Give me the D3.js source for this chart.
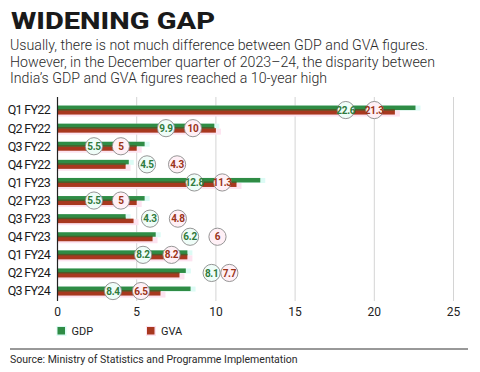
<!DOCTYPE html>
<html>
<head>
<meta charset="utf-8">
<script src="https://cdn.jsdelivr.net/npm/d3@7"></script>
<style>
  body { margin: 0; background: #fff; }
  svg { display: block; font-family: Roboto, "Noto Sans", sans-serif; }
</style>
</head>
<body>
<svg id="chart" width="480" height="372"></svg>
<script>
const quarters = ['Q1 FY22', 'Q2 FY22', 'Q3 FY22', 'Q4 FY22', 'Q1 FY23', 'Q2 FY23',
  'Q3 FY23', 'Q4 FY23', 'Q1 FY24', 'Q2 FY24', 'Q3 FY24'];
const gdp = [22.6, 9.9, 5.5, 4.5, 12.8, 5.5, 4.3, 6.2, 8.2, 8.1, 8.4];
const gva = [21.3, 10, 5, 4.3, 11.3, 5, 4.8, 6, 8.2, 7.7, 6.5];
const xTicks = [0, 5, 10, 15, 20, 25];
// where the value bubbles sit in the original (axis units)
const gdpBubbleAt = [18.2, 6.85, 2.3, 5.65, 8.64, 2.3, 5.84, 8.37, 5.4, 9.73, 3.5];
const gvaBubbleAt = [20.0, 8.55, 4.0, 7.55, 10.4, 4.0, 7.6, 10.1, 7.2, 10.85, 5.27];

const green = '#2f8c45', red = '#a8381f';
const svg = d3.select('#chart');

const x = d3.scaleLinear().domain([0, 25]).range([57.5, 453.5]);
const y = d3.scaleBand().domain(quarters).range([101, 300.1]);

// header
svg.append('text').attr('x', 11).attr('y', 29)
  .attr('font-size', 24.5).attr('font-weight', 800).attr('fill', '#1a1a1a')
  .attr('textLength', 204).attr('lengthAdjust', 'spacingAndGlyphs')
  .text('WIDENING GAP');
const sub = [
  'Usually, there is not much difference between GDP and GVA figures.',
  'However, in the December quarter of 2023\u201324, the disparity between',
  'India\u2019s GDP and GVA figures reached a 10-year high'
];
svg.selectAll('.sub').data(sub).join('text')
  .attr('class', 'sub')
  .attr('x', 10).attr('y', (d, i) => 50 + i * 16.6)
  .attr('font-size', 14.2).attr('font-weight', 300).attr('fill', '#2a2a2a')
  .text(d => d);

// grid
svg.append('g').selectAll('line').data(xTicks.slice(1)).join('line')
  .attr('x1', d => x(d)).attr('x2', d => x(d))
  .attr('y1', 97).attr('y2', 301)
  .attr('stroke', '#d4d4d4').attr('stroke-width', 1);

// bars
const rows = svg.append('g').selectAll('g').data(quarters).join('g')
  .attr('transform', d => `translate(0,${y(d) + y.bandwidth() / 2})`);

rows.append('rect')
  .attr('x', x(0)).attr('y', -4.5)
  .attr('width', (d, i) => x(gdp[i]) - x(0) + 5).attr('height', 5)
  .attr('fill', '#dcfbf5');
rows.append('rect')
  .attr('x', x(0)).attr('y', 0.5)
  .attr('width', (d, i) => x(gva[i]) - x(0) + 5).attr('height', 6)
  .attr('fill', '#fde3f0');
rows.append('rect')
  .attr('x', x(0)).attr('y', -4.5)
  .attr('width', (d, i) => x(gdp[i]) - x(0)).attr('height', 4.5)
  .attr('fill', green);
rows.append('rect')
  .attr('x', x(0)).attr('y', 0)
  .attr('width', (d, i) => x(gva[i]) - x(0)).attr('height', 4.5)
  .attr('fill', red);
rows.append('rect')
  .attr('x', x(0)).attr('y', -1)
  .attr('width', (d, i) => x(Math.min(gdp[i], gva[i])) - x(0)).attr('height', 1.5)
  .attr('fill', '#4e5a26');

// value bubbles
function bubbles(pos, vals, fill, color) {
  const b = rows.append('g')
    .attr('transform', (d, i) => `translate(${x(pos[i])},0)`);
  b.append('circle').attr('r', 8.6)
    .attr('fill', fill).attr('stroke', '#8a8a8a').attr('stroke-width', 0.9);
  b.append('text').attr('text-anchor', 'middle').attr('dy', '0.36em')
    .attr('font-size', 10).attr('font-weight', 700).attr('fill', color)
    .attr('letter-spacing', -0.3)
    .text((d, i) => vals[i]);
}
bubbles(gdpBubbleAt, gdp, '#effdf8', '#2f7a3c');
bubbles(gvaBubbleAt, gva, '#fff0f6', '#9a3318');

// axis line and category labels
svg.append('line').attr('x1', x(0)).attr('x2', x(0))
  .attr('y1', 97).attr('y2', 301).attr('stroke', '#222').attr('stroke-width', 1.2);
svg.append('g').selectAll('text').data(quarters).join('text')
  .attr('x', 50).attr('y', d => y(d) + y.bandwidth() / 2)
  .attr('dy', '0.35em').attr('text-anchor', 'end')
  .attr('font-size', 12.5).attr('fill', '#1a1a1a').attr('letter-spacing', -0.7)
  .text(d => d);

// x tick labels
svg.append('g').selectAll('text').data(xTicks).join('text')
  .attr('x', d => x(d)).attr('y', 312).attr('dy', '0.35em')
  .attr('text-anchor', 'middle').attr('font-size', 12).attr('fill', '#222')
  .text(d => d);

// legend
const legend = [['GDP', green, '#dcfbf5', 57.5], ['GVA', red, '#fde3f0', 147]];
const lg = svg.append('g').selectAll('g').data(legend).join('g')
  .attr('transform', d => `translate(${d[3]},327)`);
lg.append('rect').attr('x', -1).attr('y', -1).attr('width', 10).attr('height', 10).attr('fill', d => d[2]);
lg.append('rect').attr('width', 7.5).attr('height', 7.5).attr('fill', d => d[1]);
lg.append('text').attr('x', 14).attr('y', 4).attr('dy', '0.35em')
  .attr('font-size', 11).attr('fill', '#222').text(d => d[0]);

// footer
svg.append('line').attr('x1', 10).attr('x2', 468).attr('y1', 349).attr('y2', 349)
  .attr('stroke', '#333').attr('stroke-width', 1);
svg.append('text').attr('x', 10).attr('y', 359.5).attr('dy', '0.35em')
  .attr('font-size', 10.5).attr('fill', '#2a2a2a')
  .text('Source: Ministry of Statistics and Programme Implementation');
</script>
</body>
</html>
